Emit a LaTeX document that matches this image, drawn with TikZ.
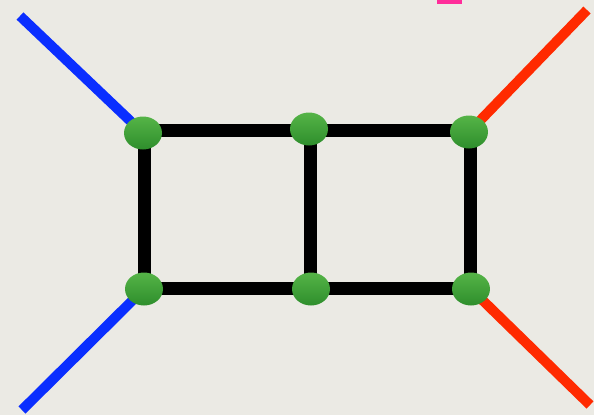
\documentclass[tikz,border=0pt]{standalone}
\usetikzlibrary{shapes.geometric}
\definecolor{bg}{HTML}{EBEAE4}
\definecolor{bl}{HTML}{0A2EFF}
\definecolor{rd}{HTML}{FF2A00}
\definecolor{pk}{HTML}{FF2D9A}
\definecolor{gtop}{HTML}{55B447}
\definecolor{gbot}{HTML}{2E8E2C}
\tikzset{
  vtx/.style={ellipse, minimum width=38pt, minimum height=33pt, inner sep=0pt, top color=gtop, bottom color=gbot, draw=none},
  edge/.style={line width=13pt, black},
  legb/.style={line width=10pt, bl},
  legr/.style={line width=10pt, rd}
}
\begin{document}
\begin{tikzpicture}[x=1pt,y=-1pt]
\fill[bg] (0,0) rectangle (594,415);
\useasboundingbox (0,0) rectangle (594,415);
\fill[pk] (437,0) rectangle (462,3.5);
\coordinate (b1) at (20,16);
\coordinate (b2) at (22,410);
\coordinate (r1) at (587,10);
\coordinate (r2) at (590,405);
\coordinate (A) at (143,133);
\coordinate (B) at (309,129);
\coordinate (C) at (469,132);
\coordinate (D) at (144,289);
\coordinate (E) at (311,289);
\coordinate (F) at (471,289);
\coordinate (At) at (144.5,130);
\coordinate (Ct) at (470.5,130);
\coordinate (Db) at (144.5,288);
\coordinate (Fb) at (470.5,288);
\coordinate (Bt) at (310,130);
\coordinate (Eb) at (310,288);
\draw[legb] (b1) -- (A);
\draw[legb] (b2) -- (D);
\draw[legr] (r1) -- (C);
\draw[legr] (r2) -- (F);
\draw[edge] (At) -- (Ct);
\draw[edge] (Db) -- (Fb);
\draw[edge] (At) -- (Db);
\draw[edge] (Bt) -- (Eb);
\draw[edge] (Ct) -- (Fb);
\node[vtx] (a) at (A) {};
\node[vtx] (b) at (B) {};
\node[vtx] (c) at (C) {};
\node[vtx] (d) at (D) {};
\node[vtx] (e) at (E) {};
\node[vtx] (f) at (F) {};
\end{tikzpicture}
\end{document}
